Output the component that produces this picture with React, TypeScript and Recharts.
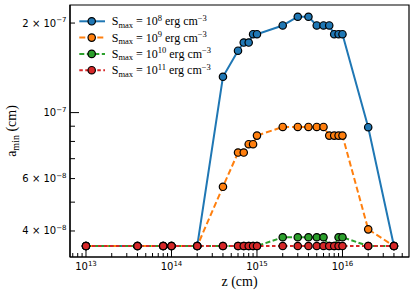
import React from 'react';
import { LineChart, Line, XAxis, YAxis, Legend, ReferenceArea } from 'recharts';

// ---------- data ----------
const zValues = [1e13, 4e13, 8e13, 1e14, 2e14, 4e14, 6e14, 7e14, 8e14, 9e14, 1e15, 2e15, 3e15, 4e15, 5e15, 6e15, 7e15, 8e15, 9e15, 1e16, 2e16, 4e16];
const smax8 = [3.56e-8, 3.56e-8, 3.56e-8, 3.56e-8, 3.56e-8, 1.32e-7, 1.615e-7, 1.72e-7, 1.72e-7, 1.835e-7, 1.835e-7, 1.963e-7, 2.1e-7, 2.1e-7, 1.963e-7, 1.963e-7, 1.963e-7, 1.835e-7, 1.835e-7, 1.835e-7, 8.93e-8, 3.56e-8];
const smax9 = [3.56e-8, 3.56e-8, 3.56e-8, 3.56e-8, 3.56e-8, 5.63e-8, 7.34e-8, 7.34e-8, 7.83e-8, 7.83e-8, 8.37e-8, 8.95e-8, 8.95e-8, 8.95e-8, 8.95e-8, 8.95e-8, 8.37e-8, 8.37e-8, 8.37e-8, 8.37e-8, 4.05e-8, 3.56e-8];
const smax10 = [3.56e-8, 3.56e-8, 3.56e-8, 3.56e-8, 3.56e-8, 3.56e-8, 3.56e-8, 3.56e-8, 3.56e-8, 3.56e-8, 3.56e-8, 3.81e-8, 3.81e-8, 3.81e-8, 3.81e-8, 3.81e-8, 3.56e-8, 3.56e-8, 3.81e-8, 3.81e-8, 3.56e-8, 3.56e-8];
const smax11 = [3.56e-8, 3.56e-8, 3.56e-8, 3.56e-8, 3.56e-8, 3.56e-8, 3.56e-8, 3.56e-8, 3.56e-8, 3.56e-8, 3.56e-8, 3.56e-8, 3.56e-8, 3.56e-8, 3.56e-8, 3.56e-8, 3.56e-8, 3.56e-8, 3.56e-8, 3.56e-8, 3.56e-8, 3.56e-8];

const xMajorTicks = [1e13, 1e14, 1e15, 1e16];
const xMinorTicks = [7e12, 8e12, 9e12, 2e13, 3e13, 4e13, 5e13, 6e13, 7e13, 8e13, 9e13, 2e14, 3e14, 4e14, 5e14, 6e14, 7e14, 8e14, 9e14, 2e15, 3e15, 4e15, 5e15, 6e15, 7e15, 8e15, 9e15, 2e16, 3e16, 4e16, 5e16];
const xTickLabels: Record<number, string> = { 1e13: '13', 1e14: '14', 1e15: '15', 1e16: '16' };

const yMajorTicks = [1e-7];
const yLabeledMinorTicks = [2e-7, 6e-8, 4e-8];
const yMinorTicks = [5e-8, 7e-8, 8e-8, 9e-8];
const yTickLabels: Record<string, [string, string]> = {
  '2e-7': ['2 × 10', '−7'],
  '1e-7': ['10', '−7'],
  '6e-8': ['6 × 10', '−8'],
  '4e-8': ['4 × 10', '−8'],
};

const X_DOMAIN: [number, number] = [6.5e12, 6.0e16];
const Y_DOMAIN: [number, number] = [3.27e-8, 2.3e-7];

const seriesList = [
  { key: 's8', exp: '8', color: '#1f77b4', dash: undefined as string | undefined, values: smax8 },
  { key: 's9', exp: '9', color: '#ff7f0e', dash: '6 3', values: smax9 },
  { key: 's10', exp: '10', color: '#2ca02c', dash: '5 2.5', values: smax10 },
  { key: 's11', exp: '11', color: '#d62728', dash: '3.5 2.5', values: smax11 },
];

const data = zValues.map((z, i) => {
  const row: Record<string, number> = { z };
  seriesList.forEach((s) => { row[s.key] = s.values[i]; });
  return row;
});

const allXTicks = [...xMajorTicks, ...xMinorTicks].sort((a, b) => a - b);
const allYTicks = [...yMajorTicks, ...yLabeledMinorTicks, ...yMinorTicks].sort((a, b) => a - b);

const SANS = '"DejaVu Sans", sans-serif';
const SERIF = '"Liberation Serif", "Times New Roman", serif';

const XTick = (props: any) => {
  const { x, y, payload } = props;
  const v = payload.value;
  const isMajor = xMajorTicks.some((t) => Math.abs(t - v) / t < 1e-6);
  const len = isMajor ? 8 : 4;
  const sup = Object.keys(xTickLabels).find((k) => Math.abs(Number(k) - v) / v < 1e-6);
  return (
    <g>
      <line x1={x} x2={x} y1={y} y2={y - len} stroke="#000" strokeWidth={1} />
      {isMajor && sup && (
        <text x={x} y={y + 12.5} textAnchor="middle" fontFamily={SANS} fontSize={10} fill="#000">
          10<tspan dy={-4} fontSize={7}>{xTickLabels[Number(sup)]}</tspan>
        </text>
      )}
    </g>
  );
};

const YTick = (props: any) => {
  const { x, y, payload } = props;
  const v = payload.value;
  const isMajor = yMajorTicks.some((t) => Math.abs(t - v) / t < 1e-6);
  const len = isMajor ? 9 : 5;
  const key = Object.keys(yTickLabels).find((k) => Math.abs(Number(k) - v) / v < 1e-6);
  return (
    <g>
      <line x1={x} x2={x + len} y1={y} y2={y} stroke="#000" strokeWidth={1} />
      {key && (
        <text x={x - 3.5} y={y + 3.5} textAnchor="end" fontFamily={SANS} fontSize={10} fill="#000">
          {yTickLabels[key][0]}
          <tspan dy={-4.5} fontSize={7}>{yTickLabels[key][1]}</tspan>
        </text>
      )}
    </g>
  );
};

const YLabel = (props: any) => {
  const vb = props.viewBox || { x: 0, y: 0, width: 0, height: 0 };
  const cx = vb.x + 16;
  const cy = vb.y + vb.height / 2;
  return (
    <text x={cx} y={cy} transform={`rotate(-90, ${cx}, ${cy})`} textAnchor="middle" fontFamily={SERIF} fontSize={14} fill="#000">
      a<tspan dy={2.5} fontSize={10}>min</tspan>
      <tspan dy={-2.5}> (cm)</tspan>
    </text>
  );
};

const XLabel = (props: any) => {
  const vb = props.viewBox || { x: 0, y: 0, width: 0, height: 0 };
  return (
    <text x={vb.x + vb.width / 2} y={vb.y + 29} textAnchor="middle" fontFamily={SERIF} fontSize={14} fill="#000">
      z (cm)
    </text>
  );
};

const makeDot = (color: string) => (p: any) => {
  if (p.cx == null || p.cy == null) return <g key={p.index} />;
  return <circle key={p.index} cx={p.cx} cy={p.cy} r={3.7} fill={color} stroke="#000" strokeWidth={1.2} />;
};

const LegendContent = () => {
  const rowGap = 16.3;
  return (
    <svg width={145} height={72} style={{ overflow: 'visible' }}>
      {seriesList.map((s, i) => {
        const cy = 16.3 + i * rowGap;
        return (
          <g key={s.key}>
            <line x1={9.3} x2={35} y1={cy} y2={cy} stroke={s.color} strokeWidth={2} strokeDasharray={s.dash} />
            <circle cx={21.7} cy={cy} r={3.7} fill={s.color} stroke="#000" strokeWidth={1.2} />
            <text x={41.7} y={cy + 4} fontFamily={SERIF} fontSize={12} fill="#000">
              S<tspan dy={2.5} fontSize={8.5}>max</tspan>
              <tspan dy={-2.5}> = 10</tspan>
              <tspan dy={-4.5} fontSize={8.5}>{s.exp}</tspan>
              <tspan dy={4.5}> erg cm</tspan>
              <tspan dy={-4.5} fontSize={8.5}>−3</tspan>
            </text>
          </g>
        );
      })}
    </svg>
  );
};

export default function App() {
  return (
    <div style={{ position: 'absolute', left: 0, top: 0, background: '#fff' }}>
      <LineChart width={415} height={296} data={data} margin={{ top: 5, right: 6, left: 0, bottom: 0 }}>
        <XAxis
          dataKey="z"
          type="number"
          scale="log"
          domain={X_DOMAIN}
          allowDataOverflow
          ticks={allXTicks}
          interval={0}
          tickSize={0}
          tickMargin={0}
          height={39}
          axisLine={{ stroke: '#000', strokeWidth: 1.2 }}
          tick={<XTick />}
          label={<XLabel />}
        />
        <YAxis
          type="number"
          scale="log"
          domain={Y_DOMAIN}
          allowDataOverflow
          ticks={allYTicks}
          interval={0}
          tickSize={0}
          tickMargin={0}
          width={70}
          axisLine={{ stroke: '#000', strokeWidth: 1.2 }}
          tick={<YTick />}
          label={<YLabel />}
        />
        <ReferenceArea x1={X_DOMAIN[0]} x2={X_DOMAIN[1]} y1={Y_DOMAIN[0]} y2={Y_DOMAIN[1]} fill="none" fillOpacity={0} stroke="#000" strokeWidth={1.2} ifOverflow="visible" />
        {seriesList.map((s) => (
          <Line
            key={s.key}
            dataKey={s.key}
            type="linear"
            stroke={s.color}
            strokeWidth={2}
            strokeDasharray={s.dash}
            dot={makeDot(s.color)}
            activeDot={false}
            isAnimationActive={false}
          />
        ))}
        <Legend
          layout="vertical"
          align="center"
          verticalAlign="middle"
          content={<LegendContent />}
          wrapperStyle={{ left: 70, top: 5, width: 145, height: 72 }}
        />
      </LineChart>
    </div>
  );
}
